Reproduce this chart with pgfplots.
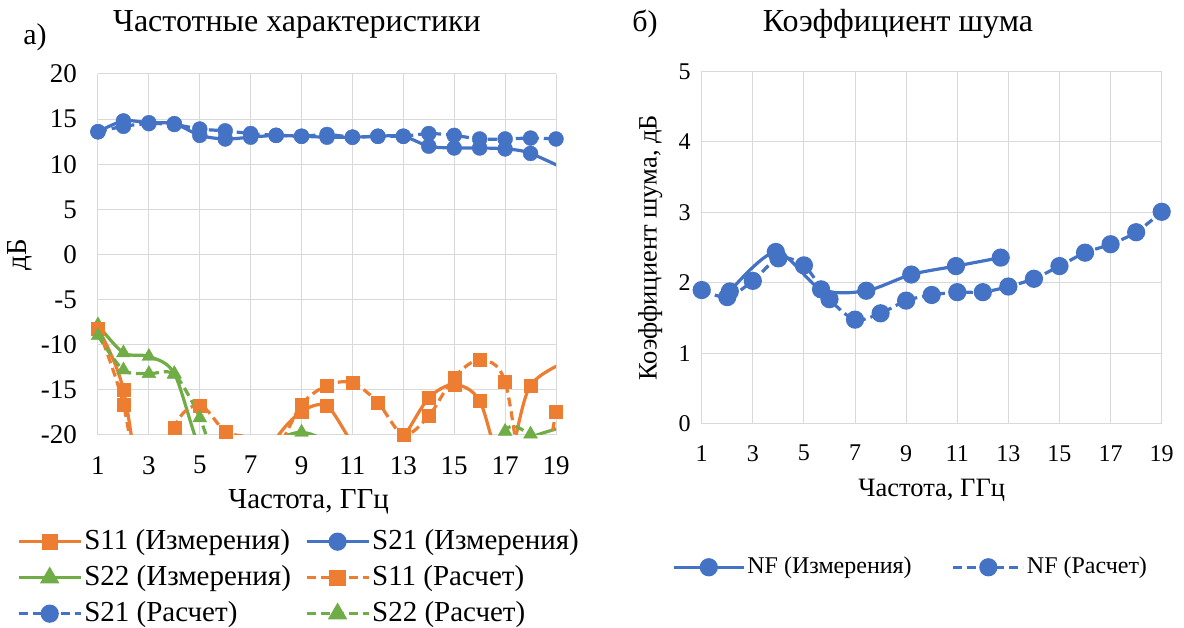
\documentclass[border=0pt]{standalone}
\usepackage{fontspec}
\setmainfont{Liberation Serif}
\usepackage{pgfplots}
\pgfplotsset{compat=1.18}

\definecolor{cOr}{HTML}{ED7D31}
\definecolor{cBl}{HTML}{4472C4}
\definecolor{cGr}{HTML}{70AD47}
\definecolor{cGrid}{HTML}{D9D9D9}

\pgfplotsset{
  excel/.style={
    scale only axis,
    axis line style={draw=none},
    major tick length=0pt,
    grid=major,
    major grid style={cGrid, line width=1pt},
    every tick label/.append style={inner sep=0pt},
    /pgf/number format/assume math mode=true,
    xmin=1, xmax=19, xtick={1,3,...,19},
    legend cell align=left,
  },
  meas/.style={line width=3.2pt, smooth, mark options={solid}},
  calc/.style={line width=3.2pt, smooth, dash pattern=on 9pt off 5pt, mark options={solid}},
  dots/.style={only marks, forget plot, mark options={solid}},
  sq/.style={mark=square*, mark size=6.5pt},
  ci/.style={mark=*, mark size=7.5pt},
  tr/.style={mark=triangle*, mark size=8pt},
}

\begin{document}
\begin{tikzpicture}
\useasboundingbox (0pt,0pt) rectangle (1184pt,628pt);

\node[font=\fontsize{32}{38}\selectfont, anchor=base] at (297pt,596pt) {Частотные характеристики};
\node[font=\fontsize{30}{36}\selectfont, anchor=base] at (35pt,583pt) {а)};
\node[font=\fontsize{32}{38}\selectfont, anchor=base] at (898pt,596pt) {Коэффициент шума};
\node[font=\fontsize{30}{36}\selectfont, anchor=base] at (645pt,596pt) {б)};

% left: S-parameters
\begin{axis}[excel, at={(98pt,193pt)}, anchor=south west, width=458pt, height=361pt,
  ymin=-20, ymax=20, ytick={-20,-15,...,20},
  tick label style={font=\fontsize{27}{32}\selectfont},
  label style={font=\fontsize{29}{34}\selectfont},
  yticklabel style={xshift=-21pt},
  xticklabel style={yshift=-21pt},
  xlabel={Частота, ГГц}, ylabel={дБ},
  xlabel style={at={(axis description cs:0.46,-0.185)}, anchor=center},
  ylabel style={at={(axis description cs:-0.17,0.5)}, anchor=center},
  legend columns=2,
  legend style={at={(axis description cs:-0.177,-0.252)}, anchor=north west,
    draw=none, fill=none, inner sep=0pt, row sep=5pt,
    font=\fontsize{29}{34}\selectfont,
    nodes={inner sep=2pt, text height=21pt, text depth=6pt},
    /tikz/every even column/.append style={column sep=12pt}},
  legend image code/.code={
    \draw[#1, mark=none] (0pt,0pt) -- (62pt,0pt);
    \draw[#1, solid] plot coordinates {(31pt,0pt)};
  },
]
% S11 measured
\addplot[meas, cOr, forget plot] coordinates {
(1,-8.2) (2,-15.0) (3,-32) (4,-34) (5,-33) (6,-30) (7,-26) (8,-20.4) (9,-17.4) (10,-16.8)
(11,-20.9) (12,-24) (13,-20.3) (14,-15.9) (15,-14.4) (16,-16.2) (17,-24) (18,-14.5) (20,-11.2)
};
% S21 measured
\addplot[meas, cBl, forget plot] coordinates {
(1,13.6) (2,14.8) (3,14.6) (4,14.5) (5,13.2) (6,12.8) (7,13.0) (8,13.2) (9,13.1) (10,13.0)
(11,13.0) (12,13.1) (13,13.1) (14,12.0) (15,11.8) (16,11.8) (17,11.7) (18,11.2) (20,8.6)
};
% S22 measured
\addplot[meas, cGr, forget plot] coordinates {
(1,-7.8) (2,-10.9) (3,-11.3) (4,-13.2) (5,-21.5) (6,-25) (7,-23) (8,-20.6) (9,-19.7) (10,-20.8)
(11,-24) (12,-27) (13,-28) (14,-28) (15,-27) (16,-25) (17,-23) (18,-20.3) (20,-18.6)
};
% S11 calculated
\addplot[calc, cOr, forget plot] coordinates {
(1,-8.2) (2,-16.6) (3,-31) (4,-19.2) (5,-16.7) (6,-19.6) (7,-20.3) (8,-21.5) (9,-16.6) (10,-14.5)
(11,-14.2) (12,-16.4) (13,-20.0) (14,-17.9) (15,-13.6) (16,-11.7) (17,-14.1) (18,-29) (19,-17.4)
};
% S21 calculated
\addplot[calc, cBl, forget plot] coordinates {
(1,13.6) (2,14.2) (3,14.5) (4,14.4) (5,13.9) (6,13.7) (7,13.4) (8,13.2) (9,13.1) (10,13.3)
(11,13.0) (12,13.1) (13,13.1) (14,13.4) (15,13.2) (16,12.8) (17,12.8) (18,12.9) (19,12.8)
};
% S22 calculated
\addplot[calc, cGr, forget plot] coordinates {
(1,-9.0) (2,-12.8) (3,-13.2) (4,-13.3) (5,-18.1) (6,-26) (7,-28) (8,-28) (9,-28) (10,-28)
(11,-28) (12,-28) (13,-28) (14,-28) (15,-28) (16,-30) (17,-19.6) (18,-19.9) (19,-21)
};

% markers of the points inside the range
\addplot[dots, cOr, sq] coordinates {
(1,-8.2) (2,-15.0) (9,-17.4) (10,-16.8) (14,-15.9) (15,-14.4) (16,-16.2) (18,-14.5)
};
\addplot[dots, cBl, ci] coordinates {
(1,13.6) (2,14.8) (3,14.6) (4,14.5) (5,13.2) (6,12.8) (7,13.0) (8,13.2) (9,13.1) (10,13.0)
(11,13.0) (12,13.1) (13,13.1) (14,12.0) (15,11.8) (16,11.8) (17,11.7) (18,11.2)
};
\addplot[dots, cGr, tr] coordinates {
(1,-7.8) (2,-10.9) (3,-11.3) (4,-13.2) (9,-19.7)
};
\addplot[dots, cOr, sq] coordinates {
(1,-8.2) (2,-16.6) (4,-19.2) (5,-16.7) (6,-19.6) (9,-16.6) (10,-14.5)
(11,-14.2) (12,-16.4) (13,-20.0) (14,-17.9) (15,-13.6) (16,-11.7) (17,-14.1) (19,-17.4)
};
\addplot[dots, cBl, ci] coordinates {
(1,13.6) (2,14.2) (3,14.5) (4,14.4) (5,13.9) (6,13.7) (7,13.4) (8,13.2) (9,13.1) (10,13.3)
(11,13.0) (12,13.1) (13,13.1) (14,13.4) (15,13.2) (16,12.8) (17,12.8) (18,12.9) (19,12.8)
};
\addplot[dots, cGr, tr] coordinates {
(1,-9.0) (2,-12.8) (3,-13.2) (4,-13.3) (5,-18.1) (17,-19.6) (18,-19.9)
};

\addlegendimage{meas, cOr, sq}
\addlegendentry{S11 (Измерения)}
\addlegendimage{meas, cBl, ci}
\addlegendentry{S21 (Измерения)}
\addlegendimage{meas, cGr, tr}
\addlegendentry{S22 (Измерения)}
\addlegendimage{calc, cOr, sq}
\addlegendentry{S11 (Расчет)}
\addlegendimage{calc, cBl, ci}
\addlegendentry{S21 (Расчет)}
\addlegendimage{calc, cGr, tr}
\addlegendentry{S22 (Расчет)}
\end{axis}

% right: noise figure
\begin{axis}[excel, at={(701.7pt,204pt)}, anchor=south west, width=460pt, height=352.5pt,
  ymin=0, ymax=5, ytick={0,1,...,5},
  tick label style={font=\fontsize{24}{28}\selectfont},
  label style={font=\fontsize{26.5}{31}\selectfont},
  yticklabel style={xshift=-11pt},
  xticklabel style={yshift=-21pt},
  xlabel={Частота, ГГц}, ylabel={Коэффициент шума, дБ},
  xlabel style={at={(axis description cs:0.5,-0.187)}, anchor=center},
  ylabel style={at={(axis description cs:-0.112,0.5)}, anchor=center},
  legend columns=2,
  legend style={at={(axis description cs:-0.0646,-0.369)}, anchor=north west,
    draw=none, fill=none, inner sep=0pt,
    font=\fontsize{24}{28}\selectfont,
    nodes={inner sep=2pt, text height=17pt, text depth=5pt},
    /tikz/every even column/.append style={column sep=38pt}},
  legend image code/.code={
    \draw[#1, mark=none] (0pt,0pt) -- (70pt,0pt);
    \draw[#1, solid] plot coordinates {(35pt,0pt)};
  },
]
\addplot[meas, cBl, ci] coordinates {
(2.1,1.88) (3.9,2.44) (5.67,1.91) (7.44,1.89) (9.2,2.12) (10.95,2.24) (12.7,2.36)
};
\addlegendentry{NF (Измерения)}
\addplot[calc, cBl, ci] coordinates {
(1,1.90) (2,1.80) (3,2.03) (4,2.35) (5,2.25) (6,1.77) (7,1.48) (8,1.57) (9,1.75) (10,1.83)
(11,1.87) (12,1.87) (13,1.95) (14,2.06) (15,2.24) (16,2.43) (17,2.55) (18,2.72) (19,3.01)
};
\addlegendentry{NF (Расчет)}
\end{axis}
\end{tikzpicture}
\end{document}
